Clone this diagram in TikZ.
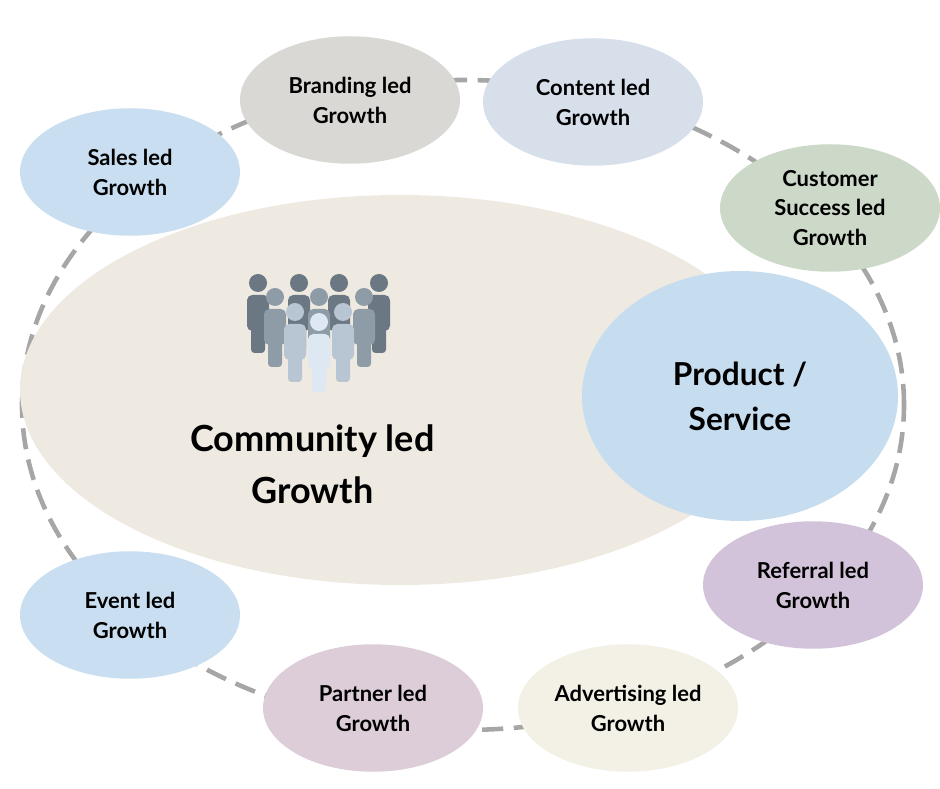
\documentclass[tikz,border=0pt]{standalone}
\usepackage{fontspec}
\setmainfont{Lato}
\usetikzlibrary{shapes.geometric}
\definecolor{ringgray}{HTML}{A6A6A6}
\definecolor{cream}{HTML}{EEE9E1}
\definecolor{prodblue}{HTML}{C6DDF0}
\definecolor{salesblue}{HTML}{C9DFF1}
\definecolor{brandgray}{HTML}{DAD8D5}
\definecolor{contentblue}{HTML}{D7DFEA}
\definecolor{custgreen}{HTML}{CCD9C8}
\definecolor{refpurple}{HTML}{D3C3DA}
\definecolor{advcream}{HTML}{F3F0E6}
\definecolor{partmauve}{HTML}{DCCDD9}
\definecolor{crowdback}{HTML}{6B7782}
\definecolor{crowdmid}{HTML}{8E9CA8}
\definecolor{crowdfront}{HTML}{B7C6D2}
\definecolor{crowdlead}{HTML}{DDE8F2}
\tikzset{
  leaf/.style={ellipse, minimum width=4.4cm, minimum height=2.55cm, inner sep=0pt,
    align=center, font=\fontsize{12.5}{17}\selectfont\bfseries},
  back/.style={fill=#1, draw=none}
}
% one figure of the crowd: x, y of head centre (px), colour
\newcommand{\crowdman}[3]{%
  \fill[#3] (#1/50,{(788-#2)/50}) circle (0.18);
  \fill[#3, rounded corners=3pt] ({(#1-11)/50},{(788-#2-12)/50}) rectangle ({(#1+11)/50},{(788-#2-48)/50});
  \fill[#3, rounded corners=2pt] ({(#1-7)/50},{(788-#2-40)/50}) rectangle ({(#1+7)/50},{(788-#2-70)/50});
}
\begin{document}
\begin{tikzpicture}
\useasboundingbox (0,0) rectangle (18.8,15.76);
% the ring
\draw[ringgray, line width=2.6pt, dash pattern=on 12pt off 6pt] (9.26,7.66) ellipse (8.82 and 6.5);
% centre
\node[back=cream, ellipse, minimum width=15.2cm, minimum height=7.8cm] (community) at (8,7.96) {};
\node[back=prodblue, ellipse, minimum width=6.32cm, minimum height=5cm, align=center,
  font=\fontsize{18}{25.5}\selectfont\bfseries] (product) at (14.8,7.84) {Product /\\Service};
\node[align=center, font=\fontsize{20.5}{29.5}\selectfont\bfseries] (cltext) at (6.25,6.48) {Community led\\Growth};
% crowd
\foreach \x in {258,299,339,379} {\crowdman{\x}{283}{crowdback}}
\foreach \x in {275,319,364} {\crowdman{\x}{297}{crowdmid}}
\foreach \x in {295,343} {\crowdman{\x}{312}{crowdfront}}
\crowdman{319}{322}{crowdlead}
% growth types
\node[leaf, back=salesblue] (sales) at (2.6,12.32) {Sales led\\Growth};
\node[leaf, back=brandgray] (branding) at (7,13.76) {Branding led\\Growth};
\node[leaf, back=contentblue] (content) at (11.86,13.72) {Content led\\Growth};
\node[leaf, back=custgreen] (customer) at (16.6,11.6) {Customer\\Success led\\Growth};
\node[leaf, back=refpurple] (referral) at (16.26,4.06) {Referral led\\Growth};
\node[leaf, back=advcream] (advertising) at (12.56,1.6) {Advertising led\\Growth};
\node[leaf, back=partmauve] (partner) at (7.46,1.6) {Partner led\\Growth};
\node[leaf, back=salesblue] (event) at (2.6,3.46) {Event led\\Growth};
\end{tikzpicture}
\end{document}
